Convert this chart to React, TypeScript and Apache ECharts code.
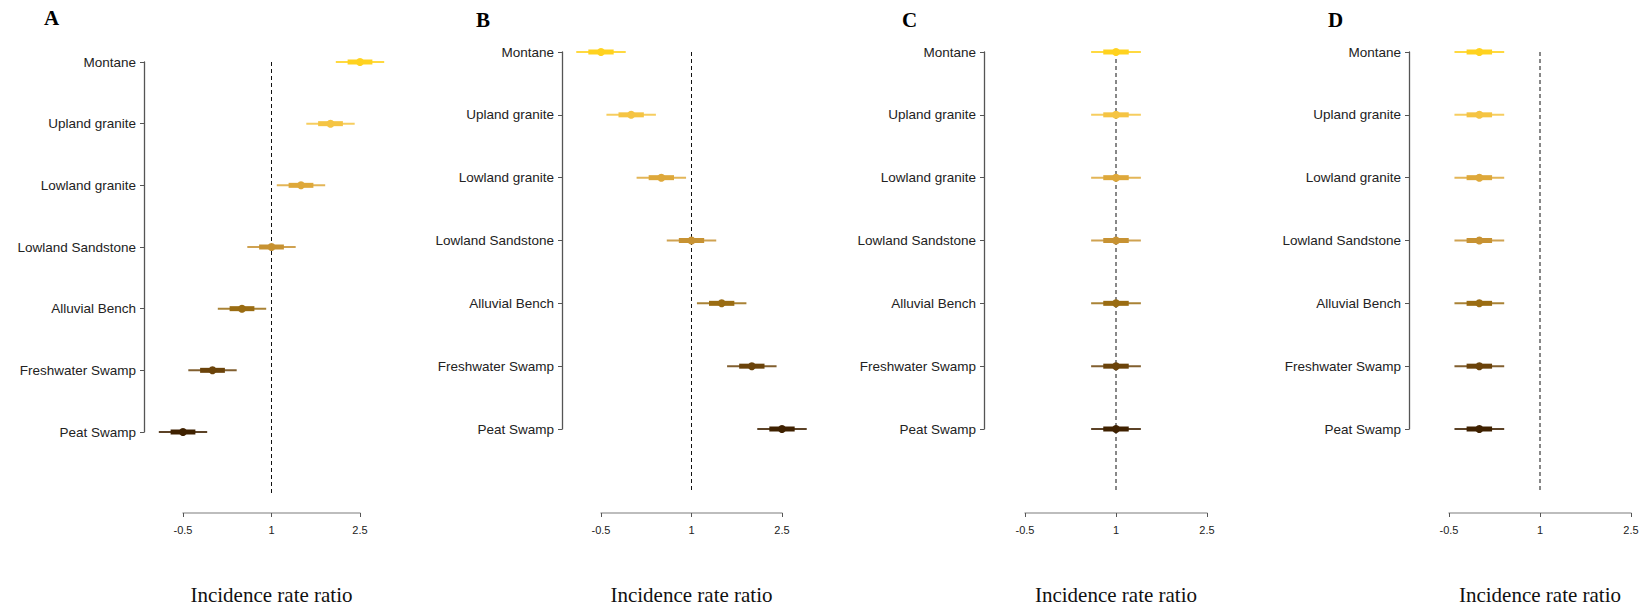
import React, { useEffect, useRef } from "react";
import * as echarts from "echarts";

const categories = [
  "Montane",
  "Upland granite",
  "Lowland granite",
  "Lowland Sandstone",
  "Alluvial Bench",
  "Freshwater Swamp",
  "Peat Swamp",
];
const rowColors = ["#FFD21F", "#F5C443", "#DEA83A", "#C79232", "#9A6C12", "#6B430A", "#3F2100"];

const panelLetters = ["A", "B", "C", "D"];
const estA = [2.5, 2.0, 1.5, 1.0, 0.5, 0.0, -0.5];
const estB = [-0.5, 0.0, 0.5, 1.0, 1.5, 2.0, 2.5];
const estC = [1.0, 1.0, 1.0, 1.0, 1.0, 1.0, 1.0];
const estD = [0.0, 0.0, 0.0, 0.0, 0.0, 0.0, 0.0];
const outerHalf = [0.41, 0.41, 0.41, 0.41, 0.41, 0.41, 0.41];
const innerHalf = [0.21, 0.21, 0.21, 0.21, 0.21, 0.21, 0.21];
const xTicks = [-0.5, 1, 2.5];
const refValue = 1;
const xTitle = "Incidence rate ratio";

const panelEstimates = [estA, estB, estC, estD];

// layout (pixels)
const layout = [
  { left: 183, width: 177, top: 62, bottom: 432, yAxisX: 144, letterX: 44, letterY: 7 },
  { left: 601, width: 181, top: 52, bottom: 429, yAxisX: 562, letterX: 476, letterY: 9 },
  { left: 1025, width: 182, top: 52, bottom: 429, yAxisX: 984, letterX: 902, letterY: 9 },
  { left: 1449, width: 182, top: 52, bottom: 429, yAxisX: 1409, letterX: 1328, letterY: 9 },
];
const xAxisY = 513;
const W = 1642;
const H = 608;

export default function App() {
  const ref = useRef<HTMLDivElement>(null);
  useEffect(() => {
    if (!ref.current) return;
    const chart = echarts.init(ref.current, null, { renderer: "svg" });
    const grids: any[] = [];
    const xAxes: any[] = [];
    const yAxes: any[] = [];
    const series: any[] = [];
    const graphics: any[] = [];

    panelEstimates.forEach((est, p) => {
      const L = layout[p];
      grids.push({
        left: L.left,
        top: L.top,
        width: L.width,
        height: L.bottom - L.top,
        containLabel: false,
        outerBoundsMode: "none",
      });
      xAxes.push({
        type: "value",
        gridIndex: p,
        position: "bottom",
        min: -0.5,
        max: 2.5,
        offset: xAxisY - L.bottom,
        splitLine: { show: false },
        axisLine: { show: true, onZero: false, lineStyle: { color: "#a8a8a8", width: 1.5 } },
        axisTick: { show: true, length: 4, inside: false, lineStyle: { color: "#555", width: 1 }, customValues: xTicks },
        axisLabel: {
          show: true,
          customValues: xTicks,
          color: "#222",
          fontFamily: "Liberation Sans",
          fontSize: 11,
          margin: 11,
          formatter: (v: number) => String(v),
        },
        name: xTitle,
        nameLocation: "middle",
        nameGap: 71,
        nameTextStyle: { fontFamily: "Liberation Serif", fontSize: 21, color: "#111" },
      });
      yAxes.push({
        type: "value",
        gridIndex: p,
        position: "left",
        inverse: true,
        min: 0,
        max: 6,
        interval: 1,
        offset: L.left - L.yAxisX,
        splitLine: { show: false },
        axisLine: { show: true, onZero: false, lineStyle: { color: "#555", width: 1.3 } },
        axisTick: { show: true, length: 4, lineStyle: { color: "#555", width: 1 } },
        axisLabel: {
          color: "#222",
          fontFamily: "Liberation Sans",
          fontSize: 13.5,
          margin: 8,
          formatter: (v: number) => categories[Math.round(v)] ?? "",
        },
      });
      series.push({
        type: "custom",
        xAxisIndex: p,
        yAxisIndex: p,
        clip: false,
        silent: true,
        data: [[refValue, 0, 7]],
        renderItem: (params: any, api: any) => {
          const a = api.coord([api.value(0), api.value(1)]);
          const b = api.coord([api.value(0), api.value(2)]);
          return {
            type: "line",
            shape: { x1: a[0], y1: a[1], x2: b[0], y2: b[1] },
            style: { stroke: "#111", lineWidth: 1, lineDash: [4, 3] },
          };
        },
      });
      series.push({
        type: "custom",
        xAxisIndex: p,
        yAxisIndex: p,
        clip: false,
        silent: true,
        data: est.map((e, i) => [i, e, e - outerHalf[i], e + outerHalf[i], e - innerHalf[i], e + innerHalf[i]]),
        renderItem: (params: any, api: any) => {
          const i = api.value(0);
          const c = rowColors[Math.round(i)];
          const p0 = api.coord([api.value(2), i]);
          const p1 = api.coord([api.value(3), i]);
          const q0 = api.coord([api.value(4), i]);
          const q1 = api.coord([api.value(5), i]);
          const m = api.coord([api.value(1), i]);
          return {
            type: "group",
            children: [
              {
                type: "line",
                shape: { x1: p0[0], y1: p0[1], x2: p1[0], y2: p1[1] },
                style: { stroke: c, lineWidth: 2, opacity: 0.85 },
              },
              {
                type: "line",
                shape: { x1: q0[0], y1: q0[1], x2: q1[0], y2: q1[1] },
                style: { stroke: c, lineWidth: 5 },
              },
              {
                type: "circle",
                shape: { cx: m[0], cy: m[1], r: 4 },
                style: { fill: c },
              },
            ],
          };
        },
      });
      graphics.push({
        type: "text",
        left: L.letterX,
        top: L.letterY,
        style: {
          text: panelLetters[p],
          font: "bold 21px 'Liberation Serif'",
          fill: "#000",
        },
      });
    });

    chart.setOption({
      animation: false,
      backgroundColor: "#fff",
      grid: grids,
      xAxis: xAxes,
      yAxis: yAxes,
      series,
      graphic: graphics,
    });
    return () => chart.dispose();
  }, []);
  return <div ref={ref} style={{ position: "absolute", left: 0, top: 0, width: W, height: H }} />;
}
